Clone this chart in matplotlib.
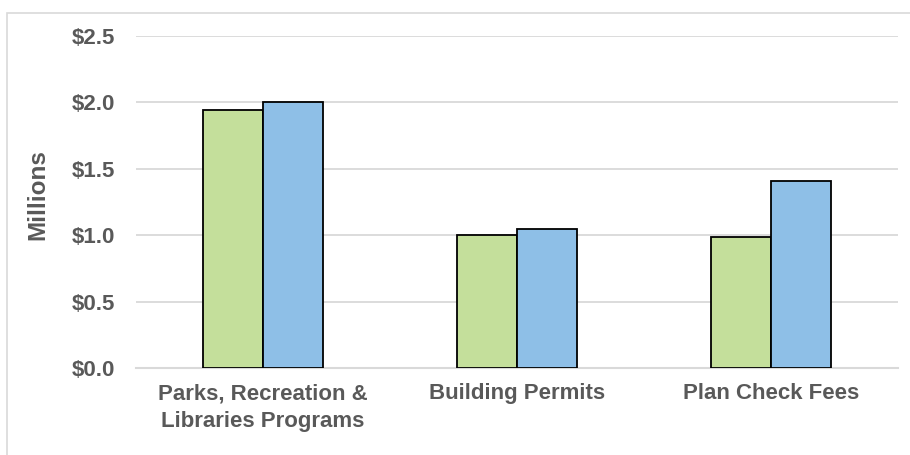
import matplotlib
matplotlib.use("Agg")
import matplotlib.pyplot as plt
from matplotlib.patches import Rectangle
import numpy as np

plt.rcParams['font.family'] = ['Liberation Sans', 'DejaVu Sans']

categories = ["Parks, Recreation &\nLibraries Programs", "Building Permits", "Plan Check Fees"]
series_a = [1.94, 1.00, 0.99]   # green
series_b = [2.00, 1.05, 1.41]   # blue
yticks = [0.0, 0.5, 1.0, 1.5, 2.0, 2.5]
ytick_labels = ["$0.0", "$0.5", "$1.0", "$1.5", "$2.0", "$2.5"]

W, H = 910, 455
fig = plt.figure(figsize=(W/100, H/100), dpi=100)

# outer frame
fig.patches.append(Rectangle((7/W, -0.1), 1.2, 1 - 13/H + 0.1, transform=fig.transFigure,
                             fill=False, edgecolor="#d9d9d9", linewidth=1.2))

ax = fig.add_axes([136/W, 1 - 368/H, 762/W, (368 - 36)/H])
x = np.arange(len(categories))
bw = 0.236
txt = "#595959"
ax.bar(x - bw/2, series_a, bw, color="#C4DF9B", edgecolor="black", linewidth=1.3, zorder=3)
ax.bar(x + bw/2, series_b, bw, color="#8EBFE7", edgecolor="black", linewidth=1.3, zorder=3)

ax.set_xlim(-0.5, 2.5)
ax.set_ylim(0, 2.5)
ax.set_yticks(yticks)
ax.set_yticklabels(ytick_labels, fontsize=16, fontweight="bold", color=txt)
ax.set_xticks(x)
ax.set_xticklabels(categories, fontsize=16, fontweight="bold", color=txt, linespacing=1.45)
ax.tick_params(axis="both", length=0)
ax.tick_params(axis="y", pad=15)
ax.tick_params(axis="x", pad=11)
ax.grid(axis="y", color="#d9d9d9", linewidth=1.3, zorder=0)
ax.set_axisbelow(True)
for s in ["top", "right", "left"]:
    ax.spines[s].set_visible(False)
ax.spines["bottom"].set_color("#d9d9d9")
ax.spines["bottom"].set_linewidth(1.5)
fig.text(38/W, 1 - 195/H, "Millions", rotation=90, ha="center", va="center",
         fontsize=17.5, fontweight="bold", color=txt)

fig.savefig("out.png", dpi=100)
